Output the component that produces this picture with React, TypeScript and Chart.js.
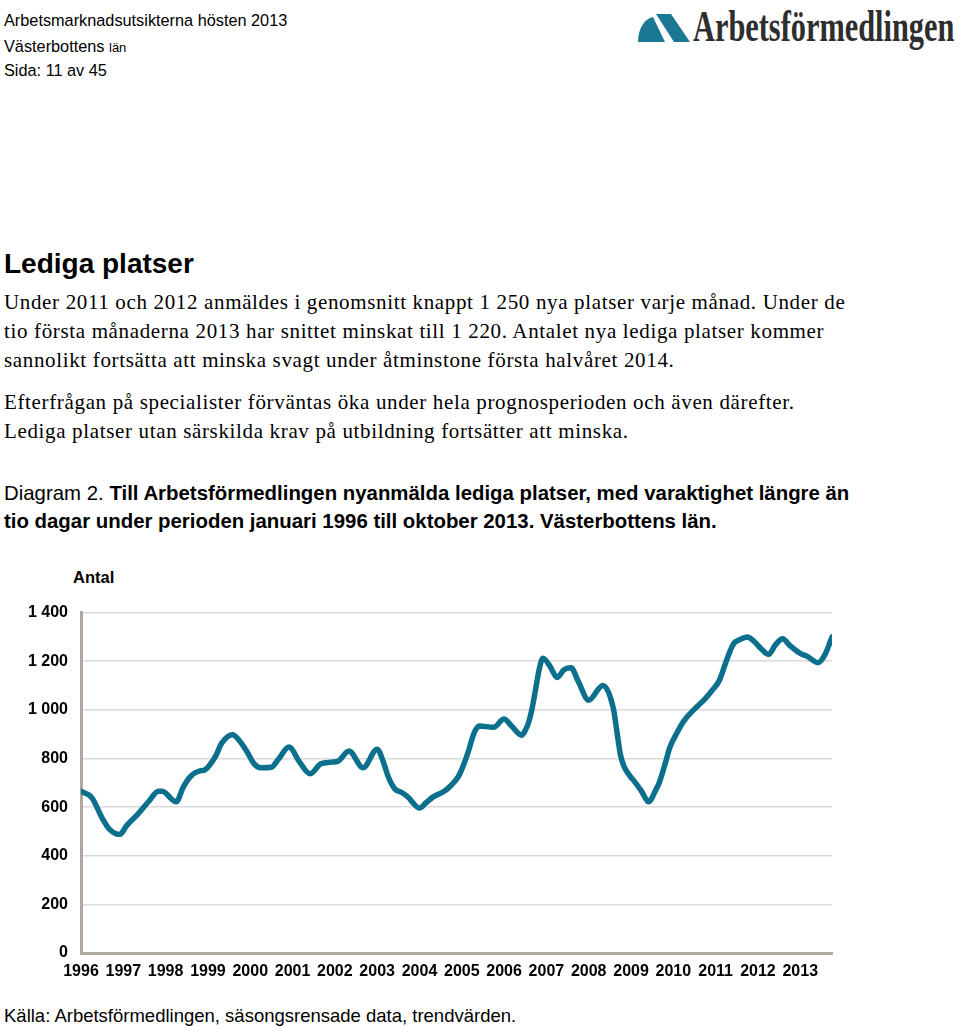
import React, { useEffect, useRef } from "react";
import { Chart, registerables } from "chart.js";

Chart.register(...registerables);

// x tick labels (years) and y tick values
const yearLabels = [1996, 1997, 1998, 1999, 2000, 2001, 2002, 2003, 2004, 2005, 2006, 2007, 2008, 2009, 2010, 2011, 2012, 2013];
const yTicks = [0, 200, 400, 600, 800, 1000, 1200, 1400];

// Month index counted from January 1996 (0) to October 2013 (213)
const monthIndex = [
  0, 3, 6, 8, 10, 11, 13, 16, 19, 22, 23, 27, 29, 31, 34, 35, 38, 40, 43, 45,
  47, 49, 51, 54, 56, 59, 62, 65, 68, 71, 73, 76, 80, 84, 86, 87, 89, 91, 93, 94,
  96, 98, 100, 103, 105, 107, 108, 110, 111, 112, 113, 117, 120, 122, 125, 126, 127, 128, 129, 130,
  131, 133, 135, 137, 139, 141, 144, 148, 151, 152, 153, 154, 155, 156, 157, 159, 161, 163, 164, 165,
  166, 167, 169, 171, 174, 177, 179, 181, 183, 185, 187, 189, 191, 193, 195, 197, 199, 201, 204, 206,
  209, 211, 213,
];

// Nyanmälda lediga platser (trend), Västerbottens län
const vacancies = [
  665, 640, 555, 510, 490, 488, 525, 569, 620, 665, 665, 622, 682, 725, 750, 752, 805, 865, 898, 872,
  830, 780, 762, 764, 797, 847, 785, 737, 778, 785, 790, 831, 762, 838, 775, 730, 675, 660, 638, 620,
  596, 620, 643, 665, 690, 725, 755, 835, 885, 920, 934, 928, 962, 936, 896, 915, 950, 1010, 1090, 1170,
  1212, 1180, 1133, 1165, 1173, 1118, 1040, 1100, 1005, 910, 815, 768, 742, 722, 705, 665, 622, 670, 700, 745,
  795, 845, 905, 955, 1003, 1045, 1080, 1120, 1200, 1270, 1290, 1300, 1280, 1250, 1228, 1268, 1292, 1265, 1232, 1220,
  1194, 1227, 1300,
];

const LINE_COLOR = "#0c6f8d";
const AXIS_COLOR = "#aea89e";
const GRID_COLOR = "#dadada";

function formatThousands(v: number): string {
  if (v >= 1000) {
    const th = Math.floor(v / 1000);
    const rest = String(v % 1000).padStart(3, "0");
    return `${th} ${rest}`;
  }
  return String(v);
}

function LineChart() {
  const ref = useRef<HTMLCanvasElement | null>(null);
  useEffect(() => {
    if (!ref.current) return;
    const data = monthIndex.map((m, i) => ({ x: 1996 + m / 12, y: vacancies[i] }));
    const chart = new Chart(ref.current, {
      type: "line",
      data: {
        datasets: [
          {
            data,
            borderColor: LINE_COLOR,
            borderWidth: 5.5,
            pointRadius: 0,
            cubicInterpolationMode: "monotone",
            borderCapStyle: "round",
            borderJoinStyle: "round",
            fill: false,
          },
        ],
      },
      options: {
        animation: false,
        responsive: false,
        devicePixelRatio: 1,
        layout: { padding: { top: 16, right: 18, left: 0, bottom: 0 } },
        plugins: { legend: { display: false }, tooltip: { enabled: false } },
        scales: {
          x: {
            type: "linear",
            min: 1996,
            max: 1996 + 213 / 12,
            afterBuildTicks: (scale: any) => {
              scale.ticks = yearLabels.map((v) => ({ value: v }));
            },
            afterFit: (scale: any) => {
              scale.height = 37;
            },
            grid: { display: false, drawTicks: false },
            border: { display: true, color: AXIS_COLOR, width: 3 },
            ticks: {
              autoSkip: false,
              maxRotation: 0,
              padding: 9,
              color: "#000",
              font: { family: "Liberation Sans", size: 16, weight: "bold" },
              callback: (v: any) => String(v),
            },
          },
          y: {
            type: "linear",
            min: 0,
            max: 1400,
            afterBuildTicks: (scale: any) => {
              scale.ticks = yTicks.map((v) => ({ value: v }));
            },
            afterFit: (scale: any) => {
              scale.width = 81;
            },
            grid: { color: GRID_COLOR, lineWidth: 1.5, drawTicks: false },
            border: { display: true, color: AXIS_COLOR, width: 3 },
            ticks: {
              padding: 13,
              color: "#000",
              font: { family: "Liberation Sans", size: 16, weight: "bold" },
              callback: (v: any) => formatThousands(Number(v)),
            },
          },
        },
      },
    } as any);
    return () => chart.destroy();
  }, []);
  return (
    <canvas
      ref={ref}
      width={850}
      height={400}
      style={{ position: "absolute", left: 0, top: 590, width: 850, height: 400 }}
    />
  );
}

const sans = "'Liberation Sans', Arial, sans-serif";
const serif = "'Liberation Serif', 'Times New Roman', serif";

function Line(props: { top: number; left?: number; size: number; family: string; bold?: boolean; spacing?: number; children: React.ReactNode; color?: string }) {
  return (
    <div
      style={{
        position: "absolute",
        left: props.left ?? 4,
        top: props.top,
        fontFamily: props.family,
        fontSize: props.size,
        fontWeight: props.bold ? "bold" : "normal",
        lineHeight: 1,
        whiteSpace: "nowrap",
        letterSpacing: props.spacing ?? 0,
        color: props.color ?? "#000",
      }}
    >
      {props.children}
    </div>
  );
}

export default function App() {
  const pSize = 21;
  const pSpacing = 0.65;
  const pOff = -10;
  return (
    <div style={{ position: "absolute", left: 0, top: 0, width: 960, height: 1027, background: "#fff", overflow: "hidden" }}>
      {/* header */}
      <Line top={12} size={16.3} family={sans}>Arbetsmarknadsutsikterna hösten 2013</Line>
      <Line top={38} size={16.3} family={sans}>
        Västerbottens <span style={{ fontSize: 13 }}>län</span>
      </Line>
      <Line top={62} size={16.3} family={sans}>Sida: 11 av 45</Line>

      {/* logo */}
      <svg width={52} height={28} viewBox="0 0 52 28" style={{ position: "absolute", left: 638, top: 14 }}>
        <path d="M0 28 C0 15 6 5 15 3 L27 28 Z" fill="#1a7894" />
        <polygon points="18,0 33,0 52,28 36,28" fill="#1a7894" />
      </svg>
      <div
        style={{
          position: "absolute",
          left: 693,
          top: 5,
          fontFamily: serif,
          fontSize: 44,
          fontWeight: "bold",
          lineHeight: 1,
          whiteSpace: "nowrap",
          color: "#2e2e2e",
          transform: "scaleX(0.69)",
          transformOrigin: "left top",
        }}
      >
        Arbetsförmedlingen
      </div>

      {/* title */}
      <Line top={250} size={28} family={sans} bold>Lediga platser</Line>

      {/* paragraphs */}
      <Line top={302 + pOff} size={pSize} family={serif} spacing={pSpacing}>Under 2011 och 2012 anmäldes i genomsnitt knappt 1 250 nya platser varje månad. Under de</Line>
      <Line top={331 + pOff} size={pSize} family={serif} spacing={pSpacing}>tio första månaderna 2013 har snittet minskat till 1 220. Antalet nya lediga platser kommer</Line>
      <Line top={360 + pOff} size={pSize} family={serif} spacing={pSpacing}>sannolikt fortsätta att minska svagt under åtminstone första halvåret 2014.</Line>
      <Line top={402 + pOff} size={pSize} family={serif} spacing={pSpacing}>Efterfrågan på specialister förväntas öka under hela prognosperioden och även därefter.</Line>
      <Line top={431 + pOff} size={pSize} family={serif} spacing={pSpacing}>Lediga platser utan särskilda krav på utbildning fortsätter att minska.</Line>

      {/* caption */}
      <Line top={483} size={20.4} family={sans}>
        Diagram 2. <b>Till Arbetsförmedlingen nyanmälda lediga platser, med varaktighet längre än</b>
      </Line>
      <Line top={511} size={20.4} family={sans} bold>tio dagar under perioden januari 1996 till oktober 2013. Västerbottens län.</Line>

      {/* axis title */}
      <Line top={569} left={73} size={16.5} family={sans} bold>Antal</Line>

      <LineChart />

      {/* source */}
      <Line top={1007} size={18.5} family={sans}>Källa: Arbetsförmedlingen, säsongsrensade data, trendvärden.</Line>
    </div>
  );
}
